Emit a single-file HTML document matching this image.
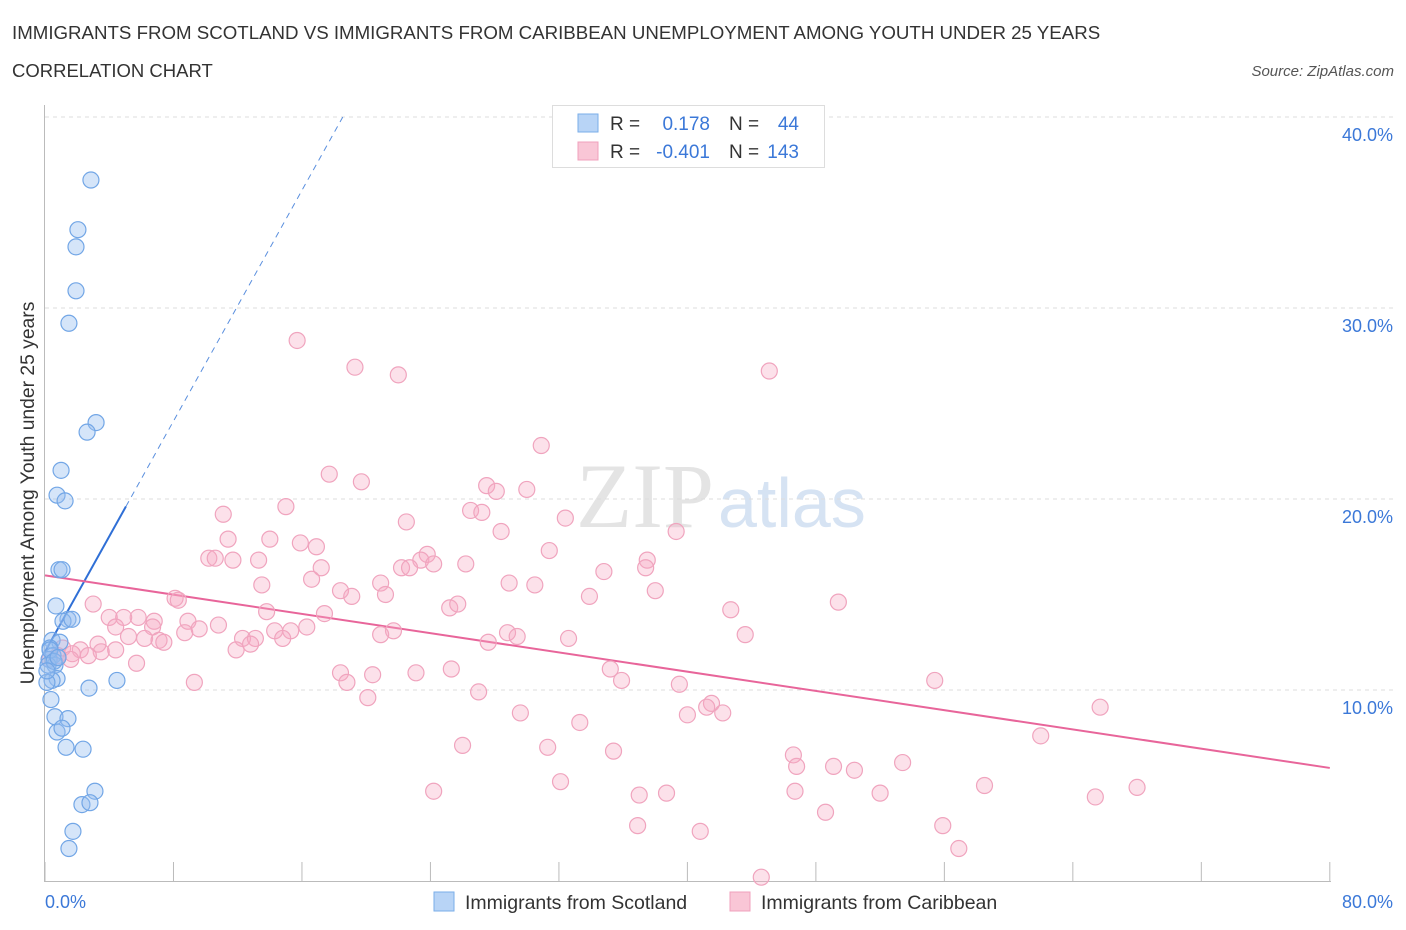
<!DOCTYPE html>
<html><head><meta charset="utf-8"><style>
body{margin:0;background:#fff;width:1406px;height:930px;overflow:hidden;font-family:"Liberation Sans",sans-serif}
svg{display:block}
</style></head><body>
<svg width="1406" height="930">
<text x="12" y="39" font-size="18.7" fill="#333">IMMIGRANTS FROM SCOTLAND VS IMMIGRANTS FROM CARIBBEAN UNEMPLOYMENT AMONG YOUTH UNDER 25 YEARS</text>
<text x="12" y="77" font-size="18.5" fill="#333">CORRELATION CHART</text>
<text x="1394" y="76" font-size="15" fill="#555" font-style="italic" text-anchor="end">Source: ZipAtlas.com</text>
<text x="714" y="527" font-size="92" fill="#e4e4e4" text-anchor="end" font-family="Liberation Serif,serif">ZIP</text>
<text x="718" y="527" font-size="70" fill="#d6e3f3">atlas</text>
<g id="grid"></g>
<g id="axes"></g>
<g id="lines"></g>
<g id="pts"></g>
<text transform="translate(34,493) rotate(-90)" font-size="19.3" fill="#333" text-anchor="middle">Unemployment Among Youth under 25 years</text>
<text x="45" y="908" font-size="18" fill="#3b78d8">0.0%</text>
<text x="1393" y="908" font-size="18" fill="#3b78d8" text-anchor="end">80.0%</text>
<g>
<rect x="552.5" y="105.5" width="272" height="62" fill="#fff" stroke="#ddd"/>
<rect x="578" y="114" width="20" height="18" fill="#b8d4f6" stroke="#7aaee8"/>
<rect x="578" y="142" width="20" height="18" fill="#f9c6d6" stroke="#f0a0bc"/>
<text x="610" y="130" font-size="19" fill="#333">R =</text>
<text x="710" y="130" font-size="19" fill="#3b78d8" text-anchor="end">0.178</text>
<text x="729" y="130" font-size="19" fill="#333">N =</text>
<text x="799" y="130" font-size="19" fill="#3b78d8" text-anchor="end">44</text>
<text x="610" y="158" font-size="19" fill="#333">R =</text>
<text x="710" y="158" font-size="19" fill="#3b78d8" text-anchor="end">-0.401</text>
<text x="729" y="158" font-size="19" fill="#333">N =</text>
<text x="799" y="158" font-size="19" fill="#3b78d8" text-anchor="end">143</text>
</g>
<g>
<rect x="434" y="892" width="20" height="19" fill="#b8d4f6" stroke="#7aaee8"/>
<text x="465" y="909" font-size="19.5" fill="#333">Immigrants from Scotland</text>
<rect x="730" y="892" width="20" height="19" fill="#f9c6d6" stroke="#f0a0bc"/>
<text x="761" y="909" font-size="19.5" fill="#333">Immigrants from Caribbean</text>
</g>
</svg>
<script>
const yTicks=[10,20,30,40];
const yTickLabels=["10.0%","20.0%","30.0%","40.0%"];
const xTicks=[0,8,16,24,32,40,48,56,64,72,80];
const blueX=[2.86,2.05,1.93,1.93,1.49,3.18,2.62,1.0,0.75,1.25,0.87,1.06,0.68,1.43,1.12,1.68,0.44,0.93,0.31,0.5,0.25,0.62,0.19,0.75,0.44,0.12,2.74,4.48,0.37,0.62,1.43,0.75,1.06,1.31,2.37,3.11,2.3,2.8,1.74,1.49,0.31,0.56,0.12,0.81];
const blueY=[36.7,34.1,33.2,30.9,29.2,24.0,23.5,21.5,20.2,19.9,16.3,16.3,14.4,13.7,13.6,13.7,12.6,12.5,12.2,11.8,11.6,11.3,11.3,10.6,10.5,10.4,10.1,10.5,9.5,8.6,8.5,7.8,8.0,7.0,6.9,4.7,4.0,4.1,2.6,1.7,12.1,11.5,11.0,11.7];
const pinkX=[15.7,19.3,22.0,45.1,30.9,17.7,19.7,27.5,28.1,30.0,26.5,27.2,22.5,15.0,11.1,32.4,39.3,28.4,11.4,14.0,15.9,16.9,31.4,10.2,10.6,11.7,13.3,23.8,23.4,22.2,22.7,24.2,26.2,34.8,37.5,37.4,17.2,16.6,13.5,20.9,28.9,30.5,18.4,19.1,21.2,33.9,38.0,8.1,8.3,49.4,3.0,25.2,25.7,42.7,13.8,17.4,5.8,4.0,4.9,6.8,8.9,10.8,4.4,6.7,9.6,16.3,14.3,15.3,21.7,8.7,20.9,28.8,29.4,5.2,6.2,7.1,12.3,13.1,14.8,32.6,43.6,7.4,3.3,3.5,11.9,4.4,27.6,12.8,1.1,2.2,1.7,2.7,0.8,1.6,0.3,5.7,35.2,25.3,18.4,20.4,23.1,35.9,18.8,9.3,39.5,55.4,27.0,20.1,41.5,41.2,65.7,42.2,40.0,29.6,33.3,62.0,26.0,31.3,35.4,46.6,46.8,49.1,50.4,53.4,32.1,24.2,58.5,68.0,37.0,38.7,46.7,52.0,65.4,48.6,36.9,55.9,40.8,56.9,44.6];
const pinkY=[28.3,26.9,26.5,26.7,22.8,21.3,20.9,20.7,20.4,20.5,19.4,19.3,18.8,19.6,19.2,19.0,18.3,18.3,17.9,17.9,17.7,17.5,17.3,16.9,16.9,16.8,16.8,17.1,16.8,16.4,16.4,16.6,16.6,16.2,16.8,16.4,16.4,15.8,15.5,15.6,15.6,15.5,15.2,14.9,15.0,14.9,15.2,14.8,14.7,14.6,14.5,14.3,14.5,14.2,14.1,14.0,13.8,13.8,13.8,13.6,13.6,13.4,13.3,13.3,13.2,13.3,13.1,13.1,13.1,13.0,12.9,13.0,12.8,12.8,12.7,12.6,12.7,12.7,12.7,12.7,12.9,12.5,12.4,12.0,12.1,12.1,12.5,12.4,12.2,12.1,11.9,11.8,11.8,11.6,11.6,11.4,11.1,11.1,10.9,10.8,10.9,10.5,10.4,10.4,10.3,10.5,9.9,9.6,9.3,9.1,9.1,8.8,8.7,8.8,8.3,7.6,7.1,7.0,6.8,6.6,6.0,6.0,5.8,6.2,5.2,4.7,5.0,4.9,4.5,4.6,4.7,4.6,4.4,3.6,2.9,2.9,2.6,1.7,0.2];
const blueFit=[12.0,1.51];
const pinkFit=[16.0,-0.126];
const NS='http://www.w3.org/2000/svg';
const sx=v=>45+v*16.06, sy=v=>881-v*19.1;
function mk(parent,tag,attrs){const e=document.createElementNS(NS,tag);for(const k in attrs)e.setAttribute(k,attrs[k]);document.getElementById(parent).appendChild(e);return e;}
yTicks.forEach((t,i)=>{
 const l=mk('grid','line',{x1:45,x2:1393,y1:sy(t),y2:sy(t),stroke:'#ddd','stroke-dasharray':'4,4'});
 
 
 const tx=mk('grid','text',{x:1393,y:sy(t)+24,'font-size':18,fill:'#3b78d8','text-anchor':'end'});
 tx.textContent=yTickLabels[i];
 
 
});
const ax=mk('axes','line',{x1:44.5,x2:44.5,y1:105,y2:882,stroke:'#bbb'});


const bx=mk('axes','line',{x1:44,x2:1331,y1:881.5,y2:881.5,stroke:'#bbb'});


xTicks.forEach(t=>{const l=mk('axes','line',{x1:sx(t),x2:sx(t),y1:862,y2:882,stroke:'#bbb'});
 
 });
const xEnd=5.04, xDash=(40-blueFit[0])/blueFit[1];
const bl=mk('lines','line',{x1:sx(0),y1:sy(blueFit[0]),x2:sx(xEnd),y2:sy(blueFit[0]+blueFit[1]*xEnd),stroke:'#2f6fd6','stroke-width':2});


const bd=mk('lines','line',{x1:sx(xEnd),y1:sy(blueFit[0]+blueFit[1]*xEnd),x2:sx(xDash),y2:sy(40),stroke:'#5a8fde','stroke-width':1,'stroke-dasharray':'6,5'});


const pl=mk('lines','line',{x1:sx(0),y1:sy(pinkFit[0]),x2:sx(80),y2:sy(pinkFit[0]+pinkFit[1]*80),stroke:'#e8659a','stroke-width':2});


pinkX.forEach((x,i)=>{const c=mk('pts','circle',{cx:sx(x),cy:sy(pinkY[i]),r:8,fill:'rgba(246,170,196,0.35)',stroke:'#f0a4be','stroke-width':1.2});
 
 });
blueX.forEach((x,i)=>{const c=mk('pts','circle',{cx:sx(x),cy:sy(blueY[i]),r:8,fill:'rgba(150,190,240,0.4)',stroke:'#72a6e6','stroke-width':1.2});
 
 });
</script>
</body></html>
